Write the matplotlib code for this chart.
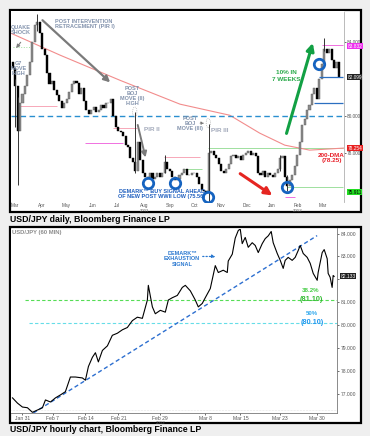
import numpy as np
import matplotlib
matplotlib.use("Agg")
import matplotlib.pyplot as plt
from matplotlib.patches import Rectangle, Ellipse
import matplotlib.transforms as mtransforms

plt.rcParams['font.family'] = ['Liberation Sans', 'DejaVu Sans']

# ---------------- daily chart data (one candle per 2 sessions) ----------------
first_open = 82.9
closes = [82.6, 81.6, 79.2, 80.7, 81.2, 81.6, 82.2, 82.9, 84.0, 84.9,
          85.1, 84.5, 83.6, 83.3, 82.3, 81.7, 81.9, 81.4, 81.1, 80.8,
          80.4, 80.7, 80.9, 81.3, 81.7, 81.9, 81.8, 81.2, 81.5, 80.8,
          80.3, 80.1, 80.3, 80.5, 80.2, 80.3, 80.6, 80.4, 80.7, 80.7,
          80.9, 80.0, 79.4, 79.2, 79.1, 78.9, 78.4, 78.3, 77.7, 77.5,
          77.0, 78.6, 77.6, 76.9, 76.7, 76.6, 76.9, 76.6, 76.7, 76.9,
          76.7, 76.9, 77.5, 77.1, 77.0, 76.7, 76.5, 76.6, 76.8, 76.9,
          77.1, 76.8, 76.8, 76.9, 76.9, 76.7, 76.3, 76.0, 75.9, 75.8,
          78.0, 78.1, 77.9, 77.7, 77.4, 77.0, 76.9, 77.1, 77.4, 77.8,
          77.9, 77.7, 77.8, 77.6, 77.9, 78.0, 78.1, 77.9, 78.0, 77.8,
          76.9, 76.8, 77.0, 76.7, 76.9, 76.8, 76.7, 76.9, 77.1, 77.7,
          77.8, 76.7, 76.2, 76.5, 76.8, 77.3, 77.9, 78.6, 79.5, 79.8,
          80.3, 80.6, 81.2, 81.5, 80.9, 82.0, 82.8, 83.6, 83.4, 83.6,
          83.0, 82.6, 82.9, 82.1]
spike_idx = [1, 2, 10, 50, 62, 80, 109, 112, 127]
spike_lo = [79.4, 76.25, 84.6, 76.9, 76.9, 75.35, 77.0, 75.95, 83.5]
spike_hi = [82.0, 81.0, 85.5, 80.2, 77.85, 79.55, 77.85, 76.8, 84.2]

dma_t = [0, 39.8, 88.6, 137.4, 178, 202.4, 222.8, 243.1, 270.7]
dma_v = [84.46, 83.28, 81.92, 80.63, 80.03, 79.06, 78.41, 78.14, 78.25]

month_pos = [2.4, 24.4, 44.7, 65.9, 86.2, 108.1, 129.3, 149.6, 170.7, 191.9, 212.2, 233.3, 253.7]
month_lab = ['Mar', 'Apr', 'May', 'Jun', 'Jul', 'Aug', 'Sep', 'Oct', 'Nov', 'Dec', 'Jan', 'Feb', 'Mar']

# ---------------- hourly chart data ----------------
hx = [-0.45, 0.28, 1.0, 1.73, 2.46, 3.19, 3.92, 4.36, 5.09, 5.82, 6.55, 7.27, 8.0, 8.73,
      9.75, 10.19, 10.63, 11.21, 11.65, 12.08, 12.67, 13.40, 14.12, 14.85, 15.58, 16.31,
      17.04, 17.77, 18.50, 19.23, 19.37, 19.96, 20.39, 21.12, 21.85, 22.29, 22.87, 23.60,
      24.33, 24.77, 25.50, 26.22, 26.66, 27.24, 27.68, 28.41, 29.14, 29.58, 30.30, 30.89,
      31.03, 31.62, 32.05, 32.49, 32.78, 33.07, 33.51, 33.95, 34.53, 34.97, 35.41, 35.99,
      36.43, 36.87, 37.30, 37.59, 38.18, 38.62, 39.05, 39.34, 39.78, 40.36, 40.80, 41.24,
      41.53, 41.97, 42.55, 42.99, 43.43, 44.01, 44.15, 44.74, 45.03, 45.47, 45.61, 45.90,
      46.19, 46.34, 46.48]
hy = [76.83, 76.6, 76.43, 76.4, 76.2, 76.3, 76.4, 76.74, 76.65, 76.83, 76.96, 77.1, 77.74, 77.74,
      77.7, 77.6, 78.2, 78.6, 78.8, 78.4, 78.9, 79.1, 79.56, 79.65, 79.8, 79.9,
      80.2, 80.35, 80.3, 81.1, 81.74, 80.8, 80.5, 80.65, 80.57, 81.1, 81.2, 81.3,
      81.65, 81.74, 81.5, 81.1, 80.8, 80.95, 81.2, 81.6, 82.6, 82.3, 82.4, 82.3,
      82.8, 83.1, 83.8, 84.13, 84.2, 83.56, 83.83, 83.4, 83.6, 83.48, 83.17, 83.56,
      83.78, 83.9, 84.09, 83.6, 83.13, 82.83, 82.48, 82.83, 82.96, 82.83, 82.96, 83.26,
      83.48, 83.13, 82.96, 82.7, 82.26, 81.96, 82.3, 83.17, 83.3, 82.9, 82.26, 82.09,
      81.65, 82.17, 82.13]
trend_x = [2.6, 44.0]
trend_y = [76.17, 83.91]
fib_levels = [81.10, 80.10]
day_pos = [1.0, 5.4, 10.2, 15.0, 21.1, 27.7, 32.8, 38.6, 44.0]
day_lab = ['Jan 31', 'Feb 7', 'Feb 14', 'Feb 21', 'Feb 29', 'Mar 8', 'Mar 15', 'Mar 23', 'Mar 30']

W, H = 370, 436
fig = plt.figure(figsize=(W / 100, H / 100), dpi=100, facecolor='#efefef')


def box(l, t, r, b):
    return [l / W, 1 - b / H, (r - l) / W, (b - t) / H]


# outer frames
for (l, t, r, b) in [(9.5, 10.5, 360.5, 212.5), (9.5, 227.5, 360.5, 423)]:
    fig.add_artist(Rectangle((l / W, 1 - b / H), (r - l) / W, (b - t) / H,
                             transform=fig.transFigure, facecolor='white',
                             edgecolor='black', lw=1.6, zorder=0))

ann = '#8393ad'
fs = 4.0

# ================= top: daily =================
ax = fig.add_axes(box(10.5, 11.5, 343.5, 202))
ax.set_xlim(-0.8, 270.7)
ax.set_ylim(75.33, 85.65)
for s in ['left', 'top', 'bottom']:
    ax.spines[s].set_visible(False)
ax.spines['right'].set_color('#b0b0b0')
ax.spines['right'].set_linewidth(0.6)

closes = np.array(closes)
opens = np.r_[first_open, closes[:-1]]
t = np.arange(len(closes)) * 2 + 1
up = closes >= opens
ax.bar(t[up], closes[up] - opens[up], bottom=opens[up], width=1.7,
       color='#8c8c8c', edgecolor='#5a5a5a', lw=0.3, zorder=3)
ax.bar(t[~up], closes[~up] - opens[~up], bottom=opens[~up], width=1.7,
       color='black', edgecolor='black', lw=0.3, zorder=3)
ax.vlines(t[spike_idx], spike_lo, spike_hi, color='#333333', lw=0.7, zorder=3)

ax.plot(dma_t, dma_v, color='#f28c8c', lw=0.8, zorder=2)
ax.axhline(80.0, color='#2a8fd0', lw=1.0, ls=(0, (4, 2.5)), zorder=2)

# support / resistance levels
ax.hlines([80.52, 79.33, 77.76], [4.9, 83, 124], [37.4, 102, 154], color='#f7a8b8', lw=0.7, zorder=1)
ax.hlines([78.52, 83.83, 75.6], [60, 253, 223], [91, 270, 231], color='#f070e0', lw=0.7, zorder=1)
ax.hlines([78.25, 77.1, 76.14], [160, 141, 225], [270.7, 155, 270.7], color='#9fe09f', lw=0.7, zorder=1)
ax.hlines(83.7, 1.5, 17, color='#9fe09f', lw=0.7, ls=':', zorder=1)
ax.hlines([82.1, 80.68], [251, 247], [270.7, 270.7], color='#2b6fc0', lw=0.9, zorder=4)

# text notes
ax.text(7.3, 84.63, 'QUAKE\nSHOCK', color=ann, fontsize=fs, weight='bold', ha='center', va='center', linespacing=1.0)
ax.annotate('', xy=(2.4, 83.55), xytext=(8.9, 84.1),
            arrowprops=dict(arrowstyle='-|>', color='#808080', lw=0.8, mutation_scale=5))
ax.text(5.7, 82.57, 'G7\nMOVE\nHIGH', color=ann, fontsize=fs, weight='bold', ha='center', va='center', linespacing=1.0)
ax.text(35.8, 84.95, 'POST INTERVENTION\nRETRACEMENT (PIR I)', color=ann, fontsize=fs,
        weight='bold', ha='left', va='center', linespacing=1.0)
ax.annotate('', xy=(82.1, 81.71), xytext=(23.6, 85.28),
            arrowprops=dict(arrowstyle='-|>', color='#7a7a7a', lw=1.6, mutation_scale=9))
ax.text(98.4, 81.06, 'POST\nBOJ\nMOVE (II)\nHIGH', color=ann, fontsize=fs, weight='bold',
        ha='center', va='center', linespacing=1.0)
ax.add_patch(Ellipse((100.5, 80.2), 3.5, 0.55, fill=False, ec='#999999', lw=0.5, ls=':'))
ax.text(114.6, 79.28, 'PIR II', color='#a3aabb', fontsize=4.6, weight='bold', ha='center', va='center')
ax.annotate('', xy=(109.8, 77.6), xytext=(102.4, 79.65),
            arrowprops=dict(arrowstyle='-|>', color='#7a7a7a', lw=1.4, mutation_scale=8))
ax.text(145.5, 79.6, 'POST\nBOJ\nMOVE (III)', color=ann, fontsize=fs, weight='bold',
        ha='center', va='center', linespacing=1.0)
ax.annotate('', xy=(159.3, 79.6), xytext=(151.5, 79.6),
            arrowprops=dict(arrowstyle='-|>', color='#777777', lw=0.6, ls=':', mutation_scale=4))
ax.add_patch(Ellipse((160.5, 79.6), 3.5, 0.5, fill=False, ec='#999999', lw=0.5, ls=':'))
ax.text(169.9, 79.22, 'PIR III', color='#a3aabb', fontsize=4.6, weight='bold', ha='center', va='center')
ax.text(122.8, 75.76, 'DEMARK\u2122 BUY SIGNAL AHEAD\nOF NEW POST WWII LOW (75.56)', color='#1f5fbf',
        fontsize=fs, weight='bold', ha='center', va='center', linespacing=1.1)

for (cx, cy) in [(111.4, 76.36), (133.3, 76.36), (160.2, 75.6), (224.4, 76.14), (250.4, 82.79)]:
    ax.plot(cx, cy, 'o', ms=7.5, mfc='none', mec='#1563c0', mew=2.0, zorder=6)

ax.annotate('', xy=(214.6, 75.6), xytext=(184.6, 76.95),
            arrowprops=dict(arrowstyle='-|>', color='#e52521', lw=2.2, mutation_scale=11))
ax.annotate('', xy=(246.3, 84.09), xytext=(223.6, 78.9),
            arrowprops=dict(arrowstyle='-|>', color='#12a044', lw=2.2, mutation_scale=11))
ax.text(224.4, 82.14, '10% IN\n7 WEEKS', color='#2aaa4a', fontsize=4.6, weight='bold',
        ha='center', va='center', linespacing=1.6)
ax.text(261, 77.7, '200-DMA\n(78.25)', color='#e8202a', fontsize=4.6, weight='bold',
        ha='center', va='center', linespacing=1.1)

ax.set_xticks(month_pos)
ax.set_xticklabels(month_lab)
ax.tick_params(axis='x', length=0, labelsize=3.4, labelcolor='#555555', pad=1.0)
trans = mtransforms.blended_transform_factory(ax.transData, ax.transAxes)
ax.text(108.1, -0.035, '2011', transform=trans, fontsize=3.2, color='#555555', ha='center', va='top')
ax.text(233.3, -0.035, '2012', transform=trans, fontsize=3.2, color='#555555', ha='center', va='top')

ax.yaxis.tick_right()
ax.set_yticks([84, 80, 78])
ax.set_yticklabels(['84.000', '80.000', '78.000'])
ax.tick_params(axis='y', length=1.5, width=0.4, labelsize=3.4, labelcolor='#555555', pad=1)
ytr = mtransforms.blended_transform_factory(ax.transAxes, ax.transData)
for val, txt, bg, fg in [(83.78, '83.832', '#ee30ee', 'white'), (82.09, '82.099', '#222222', 'white'),
                         (78.25, '78.254', '#e82020', 'white'), (75.87, '75.911', '#22dd22', 'black')]:
    ax.text(1.012, val, txt, transform=ytr, fontsize=3.4, color=fg, ha='left', va='center',
            bbox=dict(boxstyle='square,pad=0.1', fc=bg, ec='none'), clip_on=False)

# ================= bottom: hourly =================
bx = fig.add_axes(box(10.5, 228.5, 337, 413))
bx.set_xlim(-0.74, 46.9)
bx.set_ylim(76.17, 84.22)
for s in ['left', 'top']:
    bx.spines[s].set_visible(False)
for s in ['right', 'bottom']:
    bx.spines[s].set_color('#777777')
    bx.spines[s].set_linewidth(0.6)

bx.plot(hx, hy, color='black', lw=0.8, zorder=4)
bx.plot(trend_x, trend_y, color='#2d6fd0', lw=1.0, ls=(0, (3, 2)), zorder=3)
bx.hlines(fib_levels[0], 1.44, 46.9, color='#55dd55', lw=0.8, ls=(0, (3, 2)), zorder=2)
bx.hlines(fib_levels[1], 1.9, 46.9, color='#66dde8', lw=0.8, ls=(0, (3, 2)), zorder=2)
bx.hlines(76.3, -0.74, 46.9, color='#cccccc', lw=0.4, ls=':', zorder=1)

bx.text(0.006, 0.978, 'USD/JPY (60 MIN)', transform=bx.transAxes, fontsize=4.2, weight='bold',
        color='#8c8c8c', ha='left', va='center')
bx.text(24.3, 82.9, 'DEMARK\u2122\nEXHAUSTION\nSIGNAL', color='#2a78d0', fontsize=4.0, weight='bold',
        ha='center', va='center', linespacing=1.15)
bx.annotate('', xy=(29.6, 83.0), xytext=(26.9, 83.0),
            arrowprops=dict(arrowstyle='-|>', color='#2a78d0', lw=0.9, ls=':', mutation_scale=5))
bx.text(43.1, 81.5, '38.2%', color='#44cc44', fontsize=4.4, weight='bold', ha='center', va='center')
bx.text(43.1, 81.13, '(81.10)', color='#33bb33', fontsize=5.2, weight='bold', ha='center', va='center')
bx.text(43.3, 80.50, '50%', color='#33aaee', fontsize=4.4, weight='bold', ha='center', va='center')
bx.text(43.3, 80.12, '(80.10)', color='#2299ee', fontsize=5.2, weight='bold', ha='center', va='center')

bx.yaxis.tick_right()
bx.set_yticks([77, 78, 79, 80, 81, 82, 83, 84])
bx.set_yticklabels(['77.000', '78.000', '79.000', '80.000', '81.000', '', '83.000', '84.000'])
bx.tick_params(axis='y', length=1.5, width=0.4, labelsize=3.6, labelcolor='#555555', pad=1)
btr = mtransforms.blended_transform_factory(bx.transAxes, bx.transData)
bx.text(1.01, 82.13, '82.133', transform=btr, fontsize=3.6, color='white', ha='left', va='center',
        bbox=dict(boxstyle='square,pad=0.1', fc='#222222', ec='none'), clip_on=False)

bx.set_xticks(day_pos)
bx.set_xticklabels(day_lab)
bx.tick_params(axis='x', length=1.2, width=0.4, labelsize=3.6, labelcolor='#555555', pad=0.8)
btr2 = mtransforms.blended_transform_factory(bx.transData, bx.transAxes)
bx.text(21.1, -0.045, '2012', transform=btr2, fontsize=3.2, color='#555555', ha='center', va='top')

# captions
fig.text(10 / W, 1 - 219 / H, 'USD/JPY daily, Bloomberg Finance LP', fontsize=6.3, weight='bold',
         ha='left', va='center')
fig.text(10 / W, 1 - 429.5 / H, 'USD/JPY hourly chart, Bloomberg Finance LP', fontsize=6.3,
         weight='bold', ha='left', va='center')

fig.savefig('out.png', dpi=100, facecolor=fig.get_facecolor())
